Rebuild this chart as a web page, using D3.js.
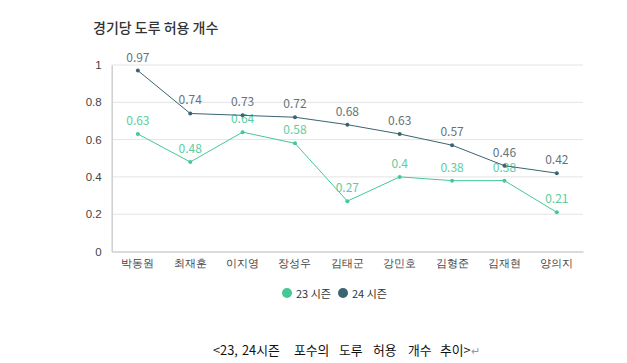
<!DOCTYPE html>
<html><head><meta charset="utf-8">
<script src="https://cdn.jsdelivr.net/npm/d3@7"></script>
<style>
body{margin:0;background:#fff;}
svg{display:block;font-family:"Noto Sans CJK KR","Noto Sans",sans-serif;}
</style></head>
<body><svg id="c" width="627" height="363"></svg>
<script>
const categories = ["박동원","최재훈","이지영","장성우","김태군","강민호","김형준","김재현","양의지"];
const season23 = [0.63,0.48,0.64,0.58,0.27,0.40,0.38,0.38,0.21];
const season24 = [0.97,0.74,0.73,0.72,0.68,0.63,0.57,0.46,0.42];
const seriesNames = ["23 시즌","24 시즌"];
const tickValues = [0,0.2,0.4,0.6,0.8,1];
const captionWords = ["<23,","24시즌","포수의","도루","허용","개수","추이>"];
const colors = ["#45c895","#3a6470"];
const labelColors = ["#5ccda0","#5f757d"];

const svg = d3.select("#c");
const x = d3.scaleBand().domain(categories).range([111.7,583]).padding(0);
const y = d3.scaleLinear().domain([0,1]).range([251.5,65]);

svg.append("text").attr("x",93).attr("y",33).attr("font-size",14).attr("font-weight",500)
  .attr("fill","#333").text("경기당 도루 허용 개수");

// gridlines
svg.append("g").selectAll("line").data(tickValues.filter(d=>d>0)).join("line")
  .attr("x1",111.7).attr("x2",583).attr("y1",d=>y(d)).attr("y2",d=>y(d))
  .attr("stroke","#e4e4e4").attr("stroke-width",1);

const yAxis = svg.append("g").attr("transform","translate(111.7,0)")
  .call(d3.axisLeft(y).tickValues(tickValues).tickSize(0).tickPadding(10).tickFormat(d=>String(d)));
yAxis.select(".domain").attr("stroke","#cfcfcf").attr("stroke-width",1.5);
yAxis.selectAll("text").attr("font-size",11.5).attr("fill","#444").attr("font-family","inherit");

const xAxis = svg.append("g").attr("transform","translate(0,251.5)")
  .call(d3.axisBottom(x).tickSize(0).tickPadding(8));
xAxis.select(".domain").attr("stroke","#cfcfcf").attr("stroke-width",1.5);
xAxis.selectAll("text").attr("font-size",11).attr("fill","#444").attr("font-family","inherit");

const cx = c => x(c) + x.bandwidth()/2;
const allSeries = [season23, season24];
allSeries.forEach((vals,i)=>{
  const pts = vals.map((v,j)=>({c:categories[j],v}));
  svg.append("path").datum(pts)
    .attr("d", d3.line().x(d=>cx(d.c)).y(d=>y(d.v)))
    .attr("fill","none").attr("stroke",colors[i]).attr("stroke-width",1);
  svg.append("g").selectAll("circle").data(pts).join("circle")
    .attr("cx",d=>cx(d.c)).attr("cy",d=>y(d.v)).attr("r",2).attr("fill",colors[i]);
  svg.append("g").selectAll("text").data(pts).join("text")
    .attr("x",d=>cx(d.c)).attr("y",d=>y(d.v)-9).attr("text-anchor","middle")
    .attr("font-size",12).attr("fill",labelColors[i])
    .text(d=>String(d.v));
});

// legend
const lg = svg.append("g");
const legendX = [287,343];
seriesNames.forEach((n,i)=>{
  lg.append("circle").attr("cx",legendX[i]).attr("cy",293).attr("r",5).attr("fill",colors[i]);
  lg.append("text").attr("x",legendX[i]+9).attr("y",297.5).attr("font-size",11)
    .attr("fill","#333").text(n);
});

// caption (word positions follow the reference's wide word spacing)
const capX = [213,242,294,339,373,408,440];
const cap = svg.append("text").attr("y",355).attr("font-size",12.8)
  .attr("fill","#111").attr("font-family","'Noto Sans CJK KR',sans-serif");
captionWords.forEach((w,i)=>{
  cap.append("tspan").attr("x",capX[i]).text(w);
});
cap.append("tspan").attr("fill","#999").attr("font-size",11).text("↵");
</script></body></html>
